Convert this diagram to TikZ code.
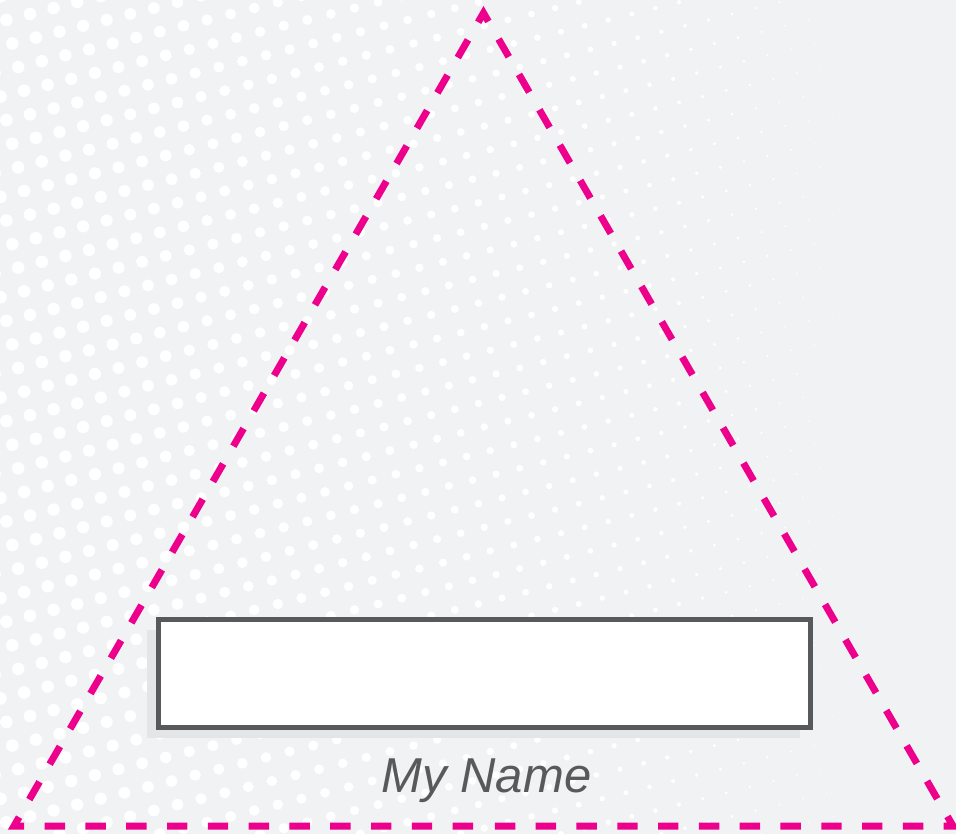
\documentclass[tikz,border=0pt]{standalone}
\usepackage{fontspec}
\setmainfont{Liberation Sans}
\definecolor{bgc}{HTML}{F1F2F4}
\definecolor{pinkc}{HTML}{EC008C}
\definecolor{greyc}{HTML}{58595B}
\definecolor{shadowc}{HTML}{E4E5E7}
\tikzset{
  pinkdash/.style={draw=pinkc, line width=7pt, dash pattern=on 20.4pt off 20.4pt, line join=miter, miter limit=10},
  namebox/.style={draw=greyc, fill=white, line width=5pt, minimum width=652pt, minimum height=108pt, inner sep=0pt},
  namelabel/.style={text=greyc, font=\fontsize{49}{55}\selectfont\itshape, inner sep=0pt}
}
\begin{document}
\begin{tikzpicture}[x=1pt,y=-1pt]
\fill[bgc] (0,0) rectangle (956,834);
\useasboundingbox (0,0) rectangle (956,834);
\begin{scope}
\clip (0,0) rectangle (956,834);
\foreach \i in {-12,...,40}{
  \foreach \j in {-6,...,40}{
    \pgfmathsetmacro{\px}{30+23.6*\i+5.9*\j}
    \pgfmathsetmacro{\py}{14-5.9*\i+23.6*\j}
    \pgfmathsetmacro{\rr}{(\px<880)*(\px>-10)*(\py>-10)*(\py<845)*6.3*(1-(max(\px,0)/880)^1.5)}
    \ifdim\rr pt>0.3pt \fill[white] (\px,\py) circle[radius=\rr pt]; \fi
  }
}
\end{scope}
\coordinate (A) at (483.5,13);
\coordinate (B) at (14,826);
\coordinate (C) at (953,826);
\coordinate (P) at (483.2,826);
\draw[pinkdash, dash phase=30.6pt] (P) -- (B) -- (A) -- (C) -- (P);
\fill[shadowc] (147,630) rectangle (800,738);
\node[namebox] (box) at (484.5,673.5) {};
\node[namelabel, anchor=base] (name) at (486.5,792) {My Name};
\end{tikzpicture}
\end{document}
